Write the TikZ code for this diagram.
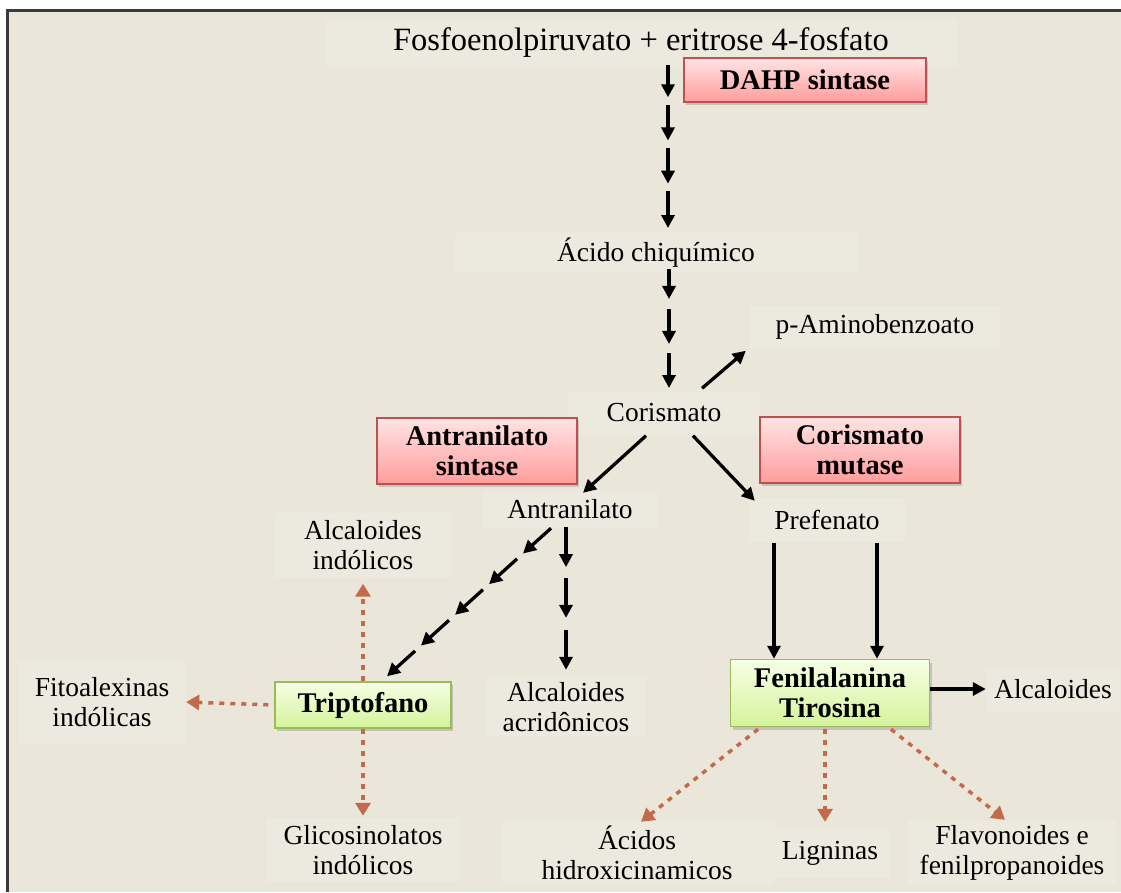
\documentclass[tikz,border=0pt]{standalone}
\usepackage{fontspec}
\setmainfont{Liberation Serif}
\usetikzlibrary{arrows.meta,calc,shadows}
\definecolor{bgc}{HTML}{EAE6DA}
\definecolor{lblbg}{HTML}{ECE9DE}
\definecolor{redb}{HTML}{C0504D}
\definecolor{redtop}{HTML}{FFE4E4}
\definecolor{redbot}{HTML}{FF9C9C}
\definecolor{grnb}{HTML}{9BBB59}
\definecolor{grntop}{HTML}{F6FFE6}
\definecolor{grnbot}{HTML}{D4F39C}
\definecolor{dashc}{HTML}{C26A4A}
\definecolor{framec}{HTML}{3A3A3A}
\begin{document}
\begin{tikzpicture}[x=1pt,y=-1pt,
  lbl/.style={fill=lblbg, inner sep=0pt, align=center, font=\fontsize{27.5}{30}\selectfont},
  enzyme/.style={draw=redb, line width=1.5pt, top color=redtop, bottom color=redbot,
    align=center, inner sep=0pt, font=\fontsize{28.5}{30}\selectfont\bfseries,
    drop shadow={shadow xshift=2pt,shadow yshift=-3pt,opacity=0.35}},
  amino/.style={draw=grnb, line width=1.5pt, top color=grntop, bottom color=grnbot,
    align=center, inner sep=0pt, font=\fontsize{28.5}{30}\selectfont\bfseries,
    drop shadow={shadow xshift=2pt,shadow yshift=-3pt,opacity=0.35}},
  arr/.style={line width=3.3pt, -{Triangle[length=13pt,width=13pt]}},
  darr/.style={dashc, line width=3.5pt, dash pattern=on 5pt off 6pt, -{Triangle[length=13pt,width=15pt]}},
]
\useasboundingbox (0,0) rectangle (1121,892);
\fill[white] (0,0) rectangle (1121,892);
\fill[bgc] (7,10) rectangle (1121,892);
\draw[framec, line width=3pt] (7,892) -- (7,10) -- (1121,10);

% nodes
\node[lbl, minimum width=632pt, minimum height=48pt, font=\fontsize{32.5}{34}\selectfont] (title) at (641,43) {Fosfoenolpiruvato + eritrose 4-fosfato};
\node[enzyme, minimum width=242pt, minimum height=44pt] (dahp) at (805,80) {DAHP sintase};
\node[lbl, minimum width=403pt, minimum height=40pt] (acido) at (656,253) {Ácido chiquímico};
\node[lbl, minimum width=250pt, minimum height=43pt] (paba) at (875,327) {p-Aminobenzoato};
\node[lbl, minimum width=192pt, minimum height=43pt] (cor) at (664,413) {Corismato};
\node[enzyme, minimum width=200pt, minimum height=66pt] (antsint) at (477,451) {Antranilato\\sintase};
\node[enzyme, minimum width=200pt, minimum height=66pt] (cormut) at (860,450) {Corismato\\mutase};
\node[lbl, minimum width=176pt, minimum height=36pt] (antr) at (570,509) {Antranilato};
\node[lbl, minimum width=156pt, minimum height=44pt] (pref) at (827,520) {Prefenato};
\node[lbl, minimum width=177pt, minimum height=65pt] (alcind) at (363,545) {Alcaloides\\indólicos};
\node[amino, minimum width=176pt, minimum height=46pt] (trip) at (363,705) {Triptofano};
\node[lbl, minimum width=168pt, minimum height=82pt] (fito) at (102,702) {Fitoalexinas\\indólicas};
\node[lbl, minimum width=194pt, minimum height=64pt] (glic) at (363,850) {Glicosinolatos\\indólicos};
\node[lbl, minimum width=160pt, minimum height=60pt] (alcacr) at (566,707) {Alcaloides\\acridônicos};
\node[amino, minimum width=199pt, minimum height=67pt] (fentir) at (830,693) {Fenilalanina\\Tirosina};
\node[lbl, minimum width=134pt, minimum height=43pt] (alc) at (1053,689) {Alcaloides};
\node[lbl, minimum width=273pt, minimum height=64pt] (acidos) at (637,853) {Ácidos\\hidroxicinamicos};
\node[lbl, minimum width=120pt, minimum height=50pt] (lign) at (830,853) {Ligninas};
\node[lbl, minimum width=208pt, minimum height=64pt] (flav) at (1012,853) {Flavonoides e\\fenilpropanoides};

% chain endpoints
\coordinate (a0) at (668,65);
\coordinate (a1) at (668,228);
\coordinate (b0) at (669,269);
\coordinate (b1) at (669,388);
\coordinate (d0) at ([xshift=-19pt,yshift=-1pt]antr.south);
\coordinate (d1) at ([xshift=24pt,yshift=5pt]trip.north);
\coordinate (e0) at ([xshift=-4pt]antr.south);
\coordinate (e1) at ([yshift=7pt]alcacr.north);

\foreach \s/\e in {0/0.198,0.247/0.463,0.512/0.728,0.772/1}
  \draw[arr] ($(a0)!\s!(a1)$) -- ($(a0)!\e!(a1)$);
\foreach \s/\e in {0/0.252,0.336/0.630,0.706/1}
  \draw[arr] ($(b0)!\s!(b1)$) -- ($(b0)!\e!(b1)$);
\foreach \s/\e in {0/0.171,0.207/0.378,0.415/0.585,0.622/0.793,0.829/1}
  \draw[arr] ($(d0)!\s!(d1)$) -- ($(d0)!\e!(d1)$);
\foreach \s/\e in {0/0.28,0.357/0.636,0.720/1}
  \draw[arr] ($(e0)!\s!(e1)$) -- ($(e0)!\e!(e1)$);

% single arrows
\draw[arr] ([xshift=38pt,yshift=3pt]cor.north) -- ([xshift=-4pt,yshift=-2pt]paba.south west);
\draw[arr] ([xshift=-18pt,yshift=-1pt]cor.south) -- ([xshift=13pt,yshift=-2pt]antr.north);
\draw[arr] ([xshift=29pt,yshift=-1pt]cor.south) -- ([xshift=6pt,yshift=-3pt]pref.north west);
\draw[arr] ([xshift=-53pt,yshift=-1pt]pref.south) -- ([xshift=-56pt]fentir.north);
\draw[arr] ([xshift=50pt,yshift=-1pt]pref.south) -- ([xshift=47pt]fentir.north);
\draw[arr] (fentir.east |- alc) -- (alc.west);

% dashed arrows
\draw[darr, shorten <=6pt] (trip.west) -- (fito.east);
\draw[darr, shorten >=6pt] (trip.north) -- (alcind.south);
\draw[darr, shorten >=2pt] (trip.south) -- (glic.north);
\draw[darr] ([xshift=-72pt,yshift=-2pt]fentir.south) -- ([xshift=4pt,yshift=-1pt]acidos.north);
\draw[darr, shorten >=6pt] ([xshift=-5pt,yshift=-2pt]fentir.south) -- ([xshift=-5pt]lign.north);
\draw[darr] ([xshift=61pt,yshift=-2pt]fentir.south) -- ([xshift=-7pt,yshift=1pt]flav.north);
\end{tikzpicture}
\end{document}
